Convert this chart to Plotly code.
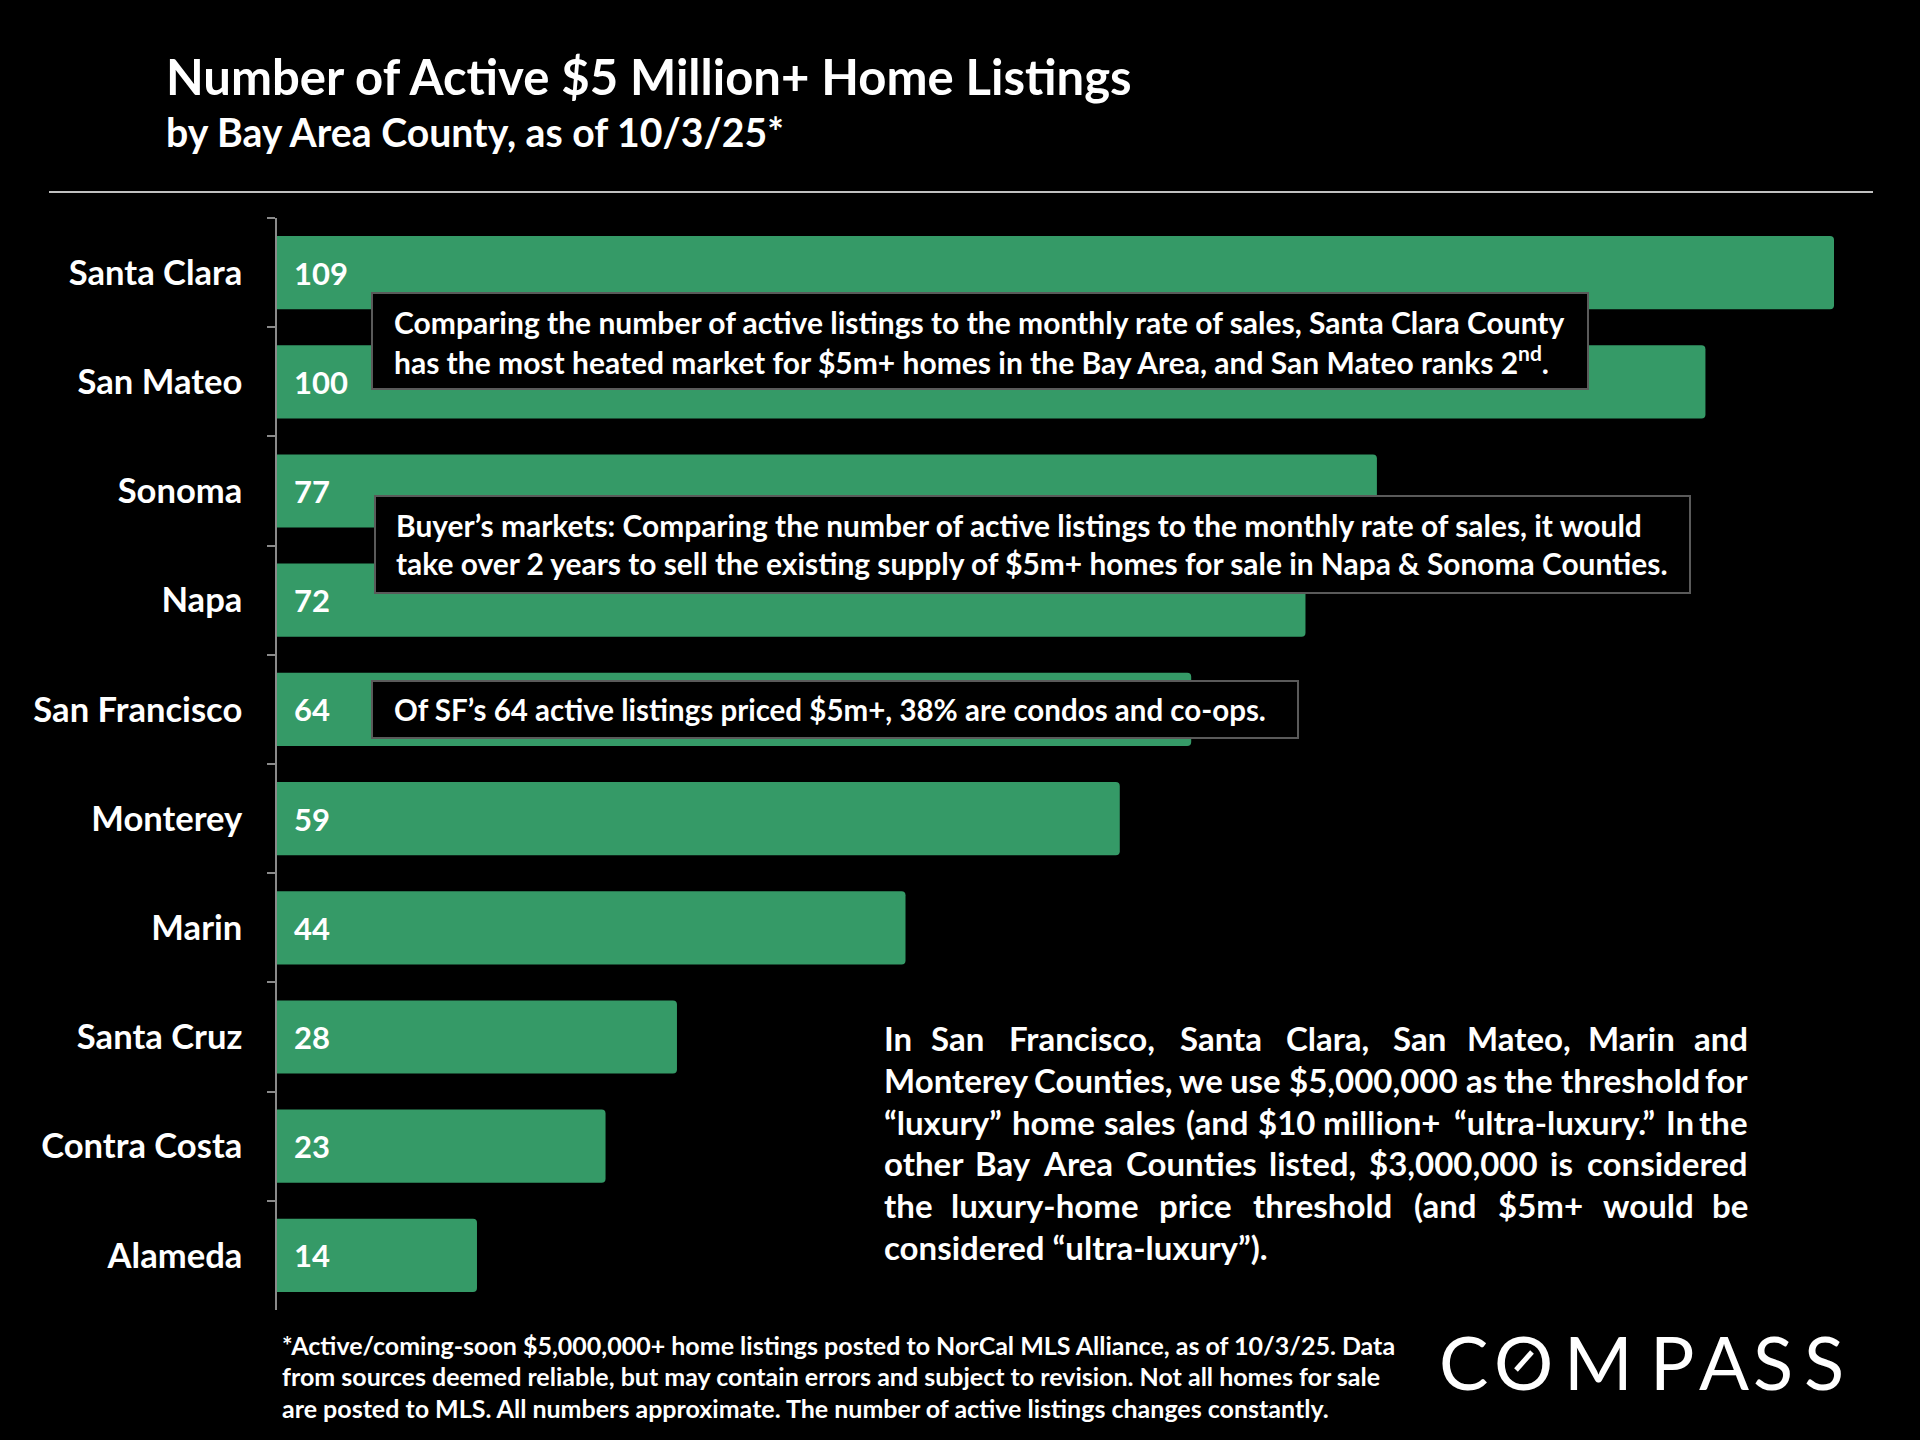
import plotly.graph_objects as go

# ---------------- data ----------------
counties = ["Santa Clara", "San Mateo", "Sonoma", "Napa", "San Francisco",
            "Monterey", "Marin", "Santa Cruz", "Contra Costa", "Alameda"]
listings = [109, 100, 77, 72, 64, 59, 44, 28, 23, 14]

title_text = "Number of Active $5 Million+ Home Listings"
subtitle_text = "by Bay Area County, as of 10/3/25*"

box1_lines = ["Comparing the number of active listings to the monthly rate of sales, Santa Clara County",
              "has the most heated market for $5m+ homes in the Bay Area, and San Mateo ranks 2<sup>nd</sup>."]
box2_lines = ["Buyer\u2019s markets: Comparing the number of active listings to the monthly rate of sales, it would",
              "take over 2 years to sell the existing supply of $5m+ homes for sale in Napa & Sonoma Counties."]
box3_lines = ["Of SF\u2019s 64 active listings priced $5m+, 38% are condos and co-ops."]

para_lines = ["In San Francisco, Santa Clara, San Mateo, Marin and",
              "Monterey Counties, we use $5,000,000 as the threshold for",
              "\u201cluxury\u201d home sales (and $10 million+ \u201cultra-luxury.\u201d In the",
              "other Bay Area Counties listed, $3,000,000 is considered",
              "the luxury-home price threshold (and $5m+ would be",
              "considered \u201cultra-luxury\u201d)."]

foot_lines = ["*Active/coming-soon $5,000,000+ home listings posted to NorCal MLS Alliance, as of 10/3/25. Data",
              "from sources deemed reliable, but may contain errors and subject to revision. Not all homes for sale",
              "are posted to MLS. All numbers approximate. The number of active listings changes constantly."]

logo_letters = ["C", "O", "M", "P", "A", "S", "S"]

# ---------------- styling ----------------
W, H = 1920, 1440
FONT = "Lato, 'Open Sans', sans-serif"
BAR = "#359A67"
BG = "#000000"


def px(x):
    return x / W


def py(y):
    return 1 - y / H


# approximate Lato Bold advance widths (em)
CW = {}
for c in "abdeghnopqu":
    CW[c] = 0.53
CW.update({'c': 0.44, 'f': 0.31, 'i': 0.24, 'j': 0.24, 'k': 0.49, 'l': 0.24, 'm': 0.8,
           'r': 0.35, 's': 0.41, 't': 0.33, 'v': 0.48, 'w': 0.74, 'x': 0.48, 'y': 0.48, 'z': 0.44,
           ',': 0.2, '.': 0.2, '$': 0.55, '(': 0.28, ')': 0.28, '\u201c': 0.4, '\u201d': 0.4,
           '-': 0.31, '+': 0.55, 'M': 0.78, 'I': 0.26})
for c in "0123456789":
    CW[c] = 0.55


def tw(s, fs):
    return sum(CW.get(c, 0.6) for c in s) * fs * 1.09


fig = go.Figure(go.Bar(
    y=counties, x=listings, orientation="h",
    marker=dict(color=BAR, line_width=0, cornerradius=4),
    width=0.67, hoverinfo="skip",
))

x_max = (1873 - 277) / ((1834 - 277) / 109)

fig.update_layout(
    width=W, height=H,
    paper_bgcolor=BG, plot_bgcolor=BG,
    margin=dict(l=0, r=0, t=0, b=0),
    showlegend=False, hovermode=False,
    font=dict(family=FONT, color="white"),
    xaxis=dict(domain=[px(277), px(1873)], range=[0, x_max], visible=False, fixedrange=True),
    yaxis=dict(domain=[py(1310), py(218)], categoryorder="array", categoryarray=counties,
               autorange="reversed", showline=True, linecolor="#8a8a8a", linewidth=1.5,
               ticks="outside", tickson="boundaries", ticklen=8, tickcolor="#8a8a8a", tickwidth=1.5,
               tickfont=dict(family=FONT, size=34.6, color="white", weight="bold"),
               ticklabelstandoff=26, showgrid=False, zeroline=False, fixedrange=True),
)

ann = []
shapes = []

# title
ann.append(dict(text=title_text, x=px(164), y=py(76), xref="paper", yref="paper",
                xanchor="left", yanchor="middle", showarrow=False,
                font=dict(size=49, color="white", family=FONT, weight="bold")))
ann.append(dict(text=subtitle_text, x=px(164), y=py(131), xref="paper", yref="paper",
                xanchor="left", yanchor="middle", showarrow=False,
                font=dict(size=39.2, color="white", family=FONT, weight="bold")))
shapes.append(dict(type="line", xref="paper", yref="paper", x0=px(49), x1=px(1873),
                   y0=py(192), y1=py(192), line=dict(color="#c0c0c0", width=2)))

# value labels inside bars
for c, v in zip(counties, listings):
    ann.append(dict(text=str(v), x=0, y=c, xref="x", yref="y", xanchor="left", yanchor="middle",
                    xshift=15, showarrow=False,
                    font=dict(size=31, color="white", family=FONT, weight="bold")))

# annotation boxes
boxes = [
    ((372, 293, 1588, 389), box1_lines, 392, [322, 360], 30),
    ((375, 496, 1690, 593), box2_lines, 394, [525, 563], 29.9),
    ((372, 681, 1298, 738), box3_lines, 392, [709], 29.5),
]
for (x0, y0, x1, y1), lines, tx, tys, fs in boxes:
    shapes.append(dict(type="rect", xref="paper", yref="paper", x0=px(x0), x1=px(x1),
                       y0=py(y1), y1=py(y0), fillcolor="black",
                       line=dict(color="#5a5a5a", width=2), layer="above"))
    for line, ty in zip(lines, tys):
        ann.append(dict(text=line, x=px(tx), y=py(ty), xref="paper", yref="paper",
                        xanchor="left", yanchor="middle", showarrow=False,
                        font=dict(size=fs, color="white", family=FONT, weight="bold")))

# justified paragraph
PL, PR = 882, 1750
para_y = [1038, 1080, 1122, 1163, 1205, 1247]
PFS = 33
for i, (line, ty) in enumerate(zip(para_lines, para_y)):
    if i == len(para_lines) - 1:
        ann.append(dict(text=line, x=px(PL), y=py(ty), xref="paper", yref="paper",
                        xanchor="left", yanchor="middle", showarrow=False,
                        font=dict(size=PFS, color="white", family=FONT, weight="bold")))
        continue
    words = line.split(" ")
    widths = [tw(w_, PFS) for w_ in words]
    gap = (PR - PL - sum(widths)) / (len(words) - 1)
    xc = PL
    for j, (wd, wdt) in enumerate(zip(words, widths)):
        if j == 0:
            xa, xpos = "left", PL
        elif j == len(words) - 1:
            xa, xpos = "right", PR
        else:
            xa, xpos = "center", xc + wdt / 2
        ann.append(dict(text=wd, x=px(xpos), y=py(ty), xref="paper", yref="paper",
                        xanchor=xa, yanchor="middle", showarrow=False,
                        font=dict(size=PFS, color="white", family=FONT, weight="bold")))
        xc += wdt + gap

# footnote
for line, ty in zip(foot_lines, [1345, 1376, 1408]):
    ann.append(dict(text=line, x=px(280), y=py(ty), xref="paper", yref="paper",
                    xanchor="left", yanchor="middle", showarrow=False,
                    font=dict(size=25, color="white", family=FONT, weight="bold")))

# COMPASS logo
logo_x = [1463, 1523, 1598, 1672, 1724, 1773, 1824]
for ch, lx in zip(logo_letters, logo_x):
    ann.append(dict(text=ch, x=px(lx), y=py(1361), xref="paper", yref="paper",
                    xanchor="center", yanchor="middle", showarrow=False,
                    font=dict(size=74, color="white", family="Lato, sans-serif", weight=400)))
shapes.append(dict(type="line", xref="paper", yref="paper", x0=px(1516), x1=px(1532),
                   y0=py(1370), y1=py(1352), line=dict(color="white", width=5)))

fig.update_layout(annotations=ann, shapes=shapes)
fig.write_html("out.html", config=dict(displayModeBar=False),
               post_script="document.body.style.margin='0';document.body.style.background='black';"
                           "document.body.style.overflow='hidden';")
